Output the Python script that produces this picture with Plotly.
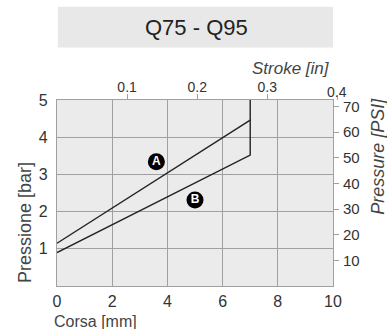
import plotly.graph_objects as go

# Pressure vs stroke curves (stroke in mm, pressure in bar)
stroke_a = [0, 7]
press_a = [1.15, 4.46]
stroke_b = [0, 7, 7]
press_b = [0.90, 3.52, 5.0]

# Curve label positions
label_text = ["A", "B"]
label_x = [3.6, 5.0]
label_y = [3.34, 2.31]

x_ticks = [0, 2, 4, 6, 8, 10]
y_ticks = [1, 2, 3, 4, 5]
in_ticks = [0.1, 0.2, 0.3, 0.4]
psi_ticks = [10, 20, 30, 40, 50, 60, 70]

MM_PER_IN = 25.4
PSI_PER_BAR = 14.5038
X_MAX = 10
Y_MAX = 5

grid = "#a0a0a0"
ink = "#222222"
txt = "#333333"
font = "Liberation Sans, Arial, sans-serif"

fig = go.Figure()
fig.add_trace(go.Scatter(x=stroke_a, y=press_a, mode="lines",
                         line=dict(color=ink, width=1.4), hoverinfo="skip"))
fig.add_trace(go.Scatter(x=stroke_b, y=press_b, mode="lines",
                         line=dict(color=ink, width=1.4), hoverinfo="skip"))
fig.add_trace(go.Scatter(x=label_x, y=label_y, mode="markers+text",
                         text=label_text, textposition="middle center",
                         textfont=dict(color="white", size=12, family=font, weight="bold"),
                         marker=dict(size=17, color="black"), hoverinfo="skip"))
# invisible traces to activate the secondary axes
fig.add_trace(go.Scatter(x=[0], y=[0], xaxis="x2", yaxis="y", mode="markers",
                         marker=dict(opacity=0), hoverinfo="skip"))
fig.add_trace(go.Scatter(x=[0], y=[0], xaxis="x", yaxis="y2", mode="markers",
                         marker=dict(opacity=0), hoverinfo="skip"))

in_max = X_MAX / MM_PER_IN
fig.update_layout(
    width=387, height=329,
    margin=dict(l=57, r=54, t=100, b=43),
    paper_bgcolor="white", plot_bgcolor="#ebebeb",
    showlegend=False,
    font=dict(family=font, color=txt, size=14),
    xaxis=dict(range=[0, X_MAX], tickvals=x_ticks, showgrid=True, gridcolor=grid,
               gridwidth=1.3, zeroline=False, showline=True, linecolor=grid,
               linewidth=1.3, mirror=True, ticks="", ticklabelstandoff=1,
               tickfont=dict(size=16, color=txt)),
    xaxis2=dict(range=[0, in_max], overlaying="x", side="top",
                tickvals=[t for t in in_ticks if t <= in_max], showgrid=False,
                zeroline=False, ticks="outside", ticklen=5, tickcolor=grid, tickwidth=1,
                ticklabelstandoff=-4, tickfont=dict(size=14, color=txt)),
    yaxis=dict(range=[0, Y_MAX], tickvals=y_ticks, showgrid=True, gridcolor=grid,
               gridwidth=1.3, zeroline=False, showline=True, linecolor=grid,
               linewidth=1.3, mirror=True, ticks="", ticklabelstandoff=5,
               tickfont=dict(size=16, color=txt)),
    yaxis2=dict(range=[0, Y_MAX * PSI_PER_BAR], overlaying="y", side="right",
                tickvals=psi_ticks, showgrid=False, zeroline=False,
                ticks="outside", ticklen=5, tickcolor=grid, tickwidth=1,
                tickfont=dict(size=15, color=txt), ticklabelstandoff=1),
)

# inch ticks that fall just past the right edge of the mm range
for t in in_ticks:
    if t > in_max:
        xp = t / in_max
        fig.add_shape(type="line", xref="paper", yref="paper", x0=xp, x1=xp,
                      y0=1.0, y1=1.027, line=dict(color=grid, width=1))
        fig.add_annotation(text=f"{t:g}", xref="paper", yref="paper", x=xp, y=0.995,
                           showarrow=False, xanchor="center", yanchor="bottom",
                           font=dict(size=14, color=txt), borderpad=0)

# Title box
fig.add_shape(type="rect", xref="paper", yref="paper", x0=0.003, x1=1.0,
              y0=1.282, y1=1.502, fillcolor="#e8e8e8", line=dict(width=0), layer="below")
fig.add_annotation(text="Q75 - Q95", xref="paper", yref="paper", x=0.505, y=1.39,
                   showarrow=False, font=dict(size=22, color="#222222"),
                   xanchor="center", yanchor="middle")

# Axis titles
fig.add_annotation(text="Pressione [bar]", xref="paper", yref="paper",
                   x=-0.116, y=0.344, textangle=-90, showarrow=False,
                   font=dict(size=18, color="#444444"), xanchor="center", yanchor="middle")
fig.add_annotation(text="Corsa [mm]", xref="paper", yref="paper",
                   x=-0.014, y=-0.192, showarrow=False, borderpad=0,
                   font=dict(size=16, color="#444444"), xanchor="left", yanchor="middle")
fig.add_annotation(text="<i>Stroke [in]</i>", xref="paper", yref="paper",
                   x=0.997, y=1.172, showarrow=False,
                   font=dict(size=17, color="#444444"), xanchor="right", yanchor="middle")
fig.add_annotation(text="<i>Pressure [PSI]</i>", xref="paper", yref="paper",
                   x=1.163, y=0.70, textangle=-90, showarrow=False,
                   font=dict(size=18, color="#444444"), xanchor="center", yanchor="middle")

fig.write_html("out.html")
